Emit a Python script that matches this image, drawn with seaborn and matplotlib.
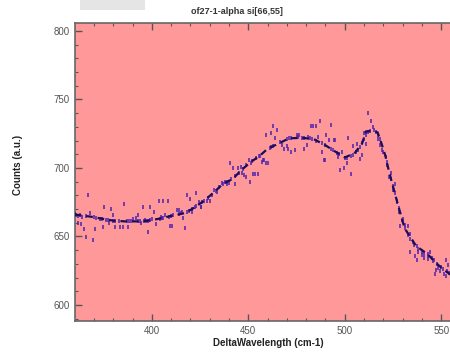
import matplotlib
matplotlib.use("Agg")
import matplotlib.pyplot as plt
import seaborn as sns
import pandas as pd
from matplotlib.patches import Rectangle
from matplotlib.ticker import MultipleLocator

# ---- data ----
spec_x = [359.7, 360.4, 360.5, 361.5, 361.5, 362.5, 363.5, 364, 365, 365.8, 366, 367, 368, 369.6, 370, 370.7, 371,
          373, 374, 374.5, 375.4, 376, 377, 377.6, 378.6, 379.7, 380, 381, 381, 383, 383.3, 385, 385.8, 387, 387.5,
          388, 389, 390, 391.7, 393, 393, 394, 394.3, 395.3, 396, 396.4, 397, 397.8, 398, 398.8, 399, 400, 400.9,
          402, 403.5, 404, 404.7, 405, 405.7, 406, 406.8, 408.2, 409, 409.5, 410, 410.4, 411, 413, 413.9, 414, 415,
          415.6, 416, 417.4, 418, 418.2, 419, 420, 420.8, 421, 422.6, 423, 423, 424.3, 425.4, 425.5, 426, 427,
          428.8, 429, 430, 431, 432.3, 433, 434, 435, 436.6, 437, 438, 439, 439, 440, 440.5, 441, 441.8, 443,
          443.2, 444.4, 445, 446.2, 446.7, 447, 447.9, 448.8, 449, 450.2, 451, 451.4, 452, 452.2, 453.6, 454,
          454.8, 455.7, 456, 457.1, 457.7, 458, 459.4, 459.4, 460.3, 461, 461.6, 462, 462.8, 463, 463.7, 465,
          466.3, 467.2, 468.6, 469.8, 470, 470.7, 471, 472, 472, 474.1, 475, 476, 476.2, 478, 479, 479, 480.2,
          481.1, 482, 482.4, 483, 483.7, 484.9, 485, 486, 487.1, 488, 488.4, 489.4, 489.6, 490, 490.5, 491.7,
          492.7, 493, 494, 494.4, 495.1, 496, 496.5, 497, 497.4, 498.3, 499.6, 500, 500.9, 501, 501.7, 503,
          503.1, 504, 504.3, 506, 506.4, 507, 507.8, 508, 509, 509, 510, 510, 510.8, 511, 512, 512.1, 513,
          513.5, 514.7, 515, 516, 517, 517, 518, 518.2, 519.4, 520, 521.2, 521.7, 522, 522.9, 524, 524, 525,
          525.2, 526, 526, 526.9, 527, 528, 528.1, 528.6, 529.5, 530, 531, 531.2, 532.9, 533, 533.9, 533.9, 534,
          535.6, 536, 536.5, 537.3, 537.3, 538, 538.2, 539.9, 540, 541, 541.3, 543, 543, 543.1, 544.3, 545,
          545.8, 546, 546.9, 547.5, 548, 548.4, 549.5, 550, 551, 551.2, 552.4, 552.4, 553, 553.5, 554]
spec_y = [657, 666.7, 665.5, 660, 665, 666, 659.4, 664, 655.7, 649.8, 665, 679.9, 667.4, 647.6, 664, 655.7, 663.5,
          663, 662.5, 657, 671.8, 662, 662, 660, 670, 666, 661.5, 657, 661, 661, 657, 657, 674, 661, 657,
          661, 661, 663, 663.7, 661, 666, 661.5, 660, 671.8, 661.5, 662, 661.5, 653.5, 661.5, 671.8, 662, 663, 667.6,
          659.3, 675.7, 663, 664, 663.5, 675.7, 663.5, 666, 675.7, 664.5, 657.4, 665, 657.4, 665.5, 669.6, 669.6, 666.5, 667,
          667.6, 663.2, 656, 668, 679.9, 668.5, 677.4, 667.6, 670, 671.3, 672, 681.8, 675, 671.8, 671.8, 675, 676,
          675.7, 678, 675.7, 680.5, 684, 683, 682.3, 686, 689, 688, 689.6, 690, 688.4, 689, 703.8, 692, 700, 694,
          688, 700, 696.5, 700.6, 696.2, 699, 694.5, 693.3, 702, 706, 689.6, 703.5, 705, 695.7, 695.7, 707,
          695.7, 709, 709, 704.3, 706, 706, 703.5, 723.8, 703.8, 714.5, 725.5, 715.5, 730.4, 716, 722.1, 728,
          718.9, 716.5, 713.6, 715.8, 721, 713.6, 721.5, 711.6, 722, 713.3, 723.8, 722.5, 723.8, 722, 713.6, 722, 716.5,
          722.6, 721.5, 730.4, 721, 730.4, 730.4, 720, 722.6, 734, 718, 711.6, 706, 706, 716.5, 723.8, 720.1,
          731.6, 714, 713, 720.1, 720.1, 711, 708, 710, 698.2, 711.6, 699.9, 707.5, 703.8, 707.5, 722.1, 708.5,
          695.7, 709.5, 716.1, 711.5, 717.7, 713, 706.2, 715.5, 718, 709.7, 721, 725.8, 717.7, 724, 726, 740.4, 727,
          734, 729.9, 727.5, 726.5, 724, 721.4, 721, 717, 712.8, 712, 708, 704.3, 702, 693.3, 692, 696.2, 687,
          684, 682, 688, 675, 676, 671, 667.6, 657.9, 662, 663, 658, 656.2, 657.9, 651, 651.8, 638.3, 648,
          645.6, 644, 635.9, 643.2, 632.8, 641, 638.3, 636.6, 638.5, 637.5, 634.2, 636, 637.1, 633.5, 638.3, 634,
          632.2, 632.5, 622.6, 625.4, 630, 627.3, 624.9, 627.5, 626.5, 622.6, 621.3, 632.8, 624.5, 629, 623.5]

fit_x = [360, 368, 374, 380, 386, 392, 398, 404, 410, 417, 422, 427, 432, 437, 442, 446, 451, 456, 460, 466,
         471, 478, 484, 490, 495, 500, 505, 509, 511, 514, 517, 519, 521, 523, 527, 531, 537, 543, 547, 551, 555]
fit_y = [666, 664.5, 663, 661.5, 661, 661, 661.5, 663, 665, 667, 671, 676, 682, 688.6, 692, 698, 704, 709, 714,
         718, 721.6, 722, 721, 716.5, 712, 707.7, 710.6, 718, 726.7, 727, 726, 718, 709, 697, 676, 656, 643, 637,
         631, 626, 622]

title = "of27-1-alpha si[66,55]"
xlabel = "DeltaWavelength (cm-1)"
ylabel = "Counts (a.u.)"

# ---- figure ----
sns.set_style("white")
plt.rcParams['font.family'] = ['Liberation Sans', 'DejaVu Sans']

fig = plt.figure(figsize=(4.5, 3.52), dpi=100)
ax = fig.add_axes([75.3 / 450, 31.3 / 352, (450.5 - 75.3) / 450, (320.7 - 23) / 352])
ax.set_facecolor("#ff9999")

spec = pd.DataFrame({"x": spec_x, "y": spec_y})
fit = pd.DataFrame({"x": fit_x, "y": fit_y})

sns.scatterplot(data=spec, x="x", y="y", ax=ax, marker="|", s=9, linewidth=1.1,
                color="#4a22b0", zorder=3, legend=False)
sns.lineplot(data=fit, x="x", y="y", ax=ax, color="#1c0d55", linewidth=1.6,
             estimator=None, zorder=4, legend=False)
ax.lines[-1].set_dashes([3.0, 2.2])

ax.set_xlim(360.3, 554.8)
ax.set_ylim(588.5, 805.8)
ax.xaxis.set_major_locator(MultipleLocator(50))
ax.xaxis.set_minor_locator(MultipleLocator(10))
ax.yaxis.set_major_locator(MultipleLocator(50))
ax.yaxis.set_minor_locator(MultipleLocator(10))
ax.tick_params(axis="both", which="major", direction="in", length=5, width=1, color="#555555",
               labelsize=7, labelcolor="#555555", top=True, bottom=True, left=True, pad=4)
ax.tick_params(axis="both", which="minor", direction="in", length=2.5, width=0.8, color="#555555",
               top=True, bottom=True, left=True)
for s in ["left", "bottom", "top"]:
    ax.spines[s].set_color("#666666")
    ax.spines[s].set_linewidth(1.2)
ax.spines["right"].set_visible(False)

ax.set_xlabel("")
ax.set_ylabel("")
fig.text(268 / 450, 1 - 343 / 352, xlabel, ha="center", va="center", fontsize=7, fontweight="bold", color="#222222")
fig.text(18 / 450, 1 - 165 / 352, ylabel, ha="center", va="center", rotation=90, fontsize=7,
         fontweight="bold", color="#222222")
fig.text(237 / 450, 1 - 12 / 352, title, ha="center", va="center", fontsize=6.5, fontweight="bold", color="#333333")

fig.patches.append(Rectangle((80 / 450, 1 - 10 / 352), 65 / 450, 10 / 352, transform=fig.transFigure,
                             facecolor="#e5e5e5", edgecolor="none", figure=fig))

fig.savefig("out.png", dpi=100)
